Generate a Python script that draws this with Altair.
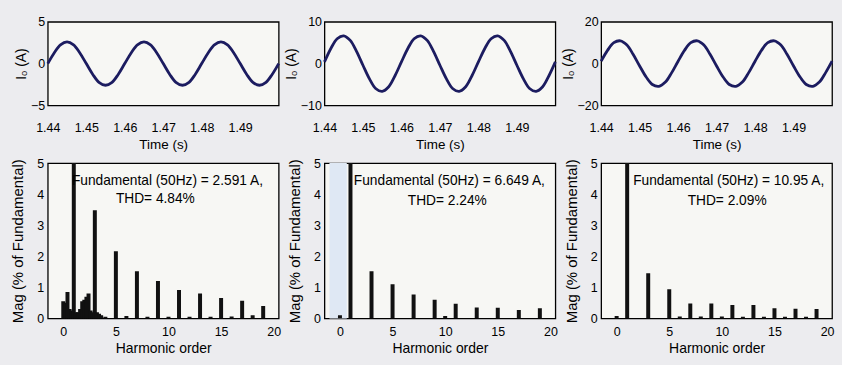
import altair as alt
import pandas as pd

# ---------------- data ----------------
t = [1.4400, 1.4417, 1.4433, 1.4450, 1.4467, 1.4483, 1.4500, 1.4517, 1.4533, 1.4550, 1.4567, 1.4583,
     1.4600, 1.4617, 1.4633, 1.4650, 1.4667, 1.4683, 1.4700, 1.4717, 1.4733, 1.4750, 1.4767, 1.4783,
     1.4800, 1.4817, 1.4833, 1.4850, 1.4867, 1.4883, 1.4900, 1.4917, 1.4933, 1.4950, 1.4967, 1.4983, 1.5000]

i_left = [0.0, 1.30, 2.24, 2.59, 2.24, 1.30, 0.0, -1.30, -2.24, -2.59, -2.24, -1.30,
          0.0, 1.30, 2.24, 2.59, 2.24, 1.30, 0.0, -1.30, -2.24, -2.59, -2.24, -1.30,
          0.0, 1.30, 2.24, 2.59, 2.24, 1.30, 0.0, -1.30, -2.24, -2.59, -2.24, -1.30, 0.0]
i_mid = [0.4, 3.67, 5.95, 6.64, 5.54, 2.97, -0.4, -3.67, -5.95, -6.64, -5.54, -2.97,
         0.4, 3.67, 5.95, 6.64, 5.54, 2.97, -0.4, -3.67, -5.95, -6.64, -5.54, -2.97,
         0.4, 3.67, 5.95, 6.64, 5.54, 2.97, -0.4, -3.67, -5.95, -6.64, -5.54, -2.97, 0.4]
i_right = [1.14, 6.44, 10.0, 10.89, 8.86, 4.45, -1.14, -6.44, -10.0, -10.89, -8.86, -4.45,
           1.14, 6.44, 10.0, 10.89, 8.86, 4.45, -1.14, -6.44, -10.0, -10.89, -8.86, -4.45,
           1.14, 6.44, 10.0, 10.89, 8.86, 4.45, -1.14, -6.44, -10.0, -10.89, -8.86, -4.45, 1.14]

time_ticks = [1.44, 1.45, 1.46, 1.47, 1.48, 1.49]
y_dom_left, y_ticks_left = [-5, 5], [-5, 0, 5]
y_dom_mid, y_ticks_mid = [-10, 10], [-10, 0, 10]
y_dom_right, y_ticks_right = [-20, 20], [-20, 0, 20]

order_left = [0, 0.2, 0.4, 0.6, 0.8, 1, 1.2, 1.4, 1.6, 1.8, 2.0, 2.2, 2.4, 2.6, 2.8, 3, 3.2, 3.4, 3.6,
              4, 5, 6, 7, 8, 9, 10, 11, 12, 13, 14, 15, 16, 17, 18, 19]
mag_left = [0.55, 0.5, 0.85, 0.3, 0.25, 100, 0.2, 0.2, 0.3, 0.55, 0.6, 0.7, 0.8, 0.25, 0.2, 3.48, 0.2, 0.15, 0.1,
            0.05, 2.16, 0.08, 1.52, 0.05, 1.2, 0.05, 0.91, 0.05, 0.8, 0.05, 0.66, 0.06, 0.57, 0.1, 0.4]

order_mid = [0, 1, 3, 5, 7, 9, 10, 11, 13, 15, 17, 19]
mag_mid = [0.1, 100, 1.52, 1.1, 0.77, 0.6, 0.08, 0.47, 0.35, 0.34, 0.27, 0.33]

order_right = [0, 1, 3, 5, 6, 7, 8, 9, 10, 11, 12, 13, 14, 15, 16, 17, 18, 19]
mag_right = [0.08, 100, 1.45, 0.94, 0.06, 0.48, 0.06, 0.48, 0.06, 0.43, 0.05, 0.43, 0.05, 0.33, 0.05, 0.31, 0.05, 0.3]

harm_ticks = [0, 5, 10, 15, 20]
mag_ticks = [0, 1, 2, 3, 4, 5]

notes_left = ["Fundamental (50Hz) = 2.591 A,", "THD= 4.84%"]
notes_mid = ["Fundamental (50Hz) = 6.649 A,", "THD= 2.24%"]
notes_right = ["Fundamental (50Hz) = 10.95 A,", "THD= 2.09%"]
notes_x_left, notes_y_left = [9.9, 8.75], [4.42, 3.84]
notes_x_mid, notes_y_mid = [10.4, 10.2], [4.43, 3.78]
notes_x_right, notes_y_right = [10.65, 10.5], [4.43, 3.78]

highlight_from, highlight_to = [-1], [0.65]

# ---------------- style ----------------
FONT = "Liberation Sans, Arial, sans-serif"
W = 232
H_TOP = 84
H_BOT = 156
LINE_COLOR = "#1c1c60"


def axis(values, title, fmt=None, label_pad=4, title_pad=4, title_size=14, label_size=12.5):
    kw = dict(values=values, title=title, ticks=False, domain=False, grid=False,
              labelFont=FONT, labelFontSize=label_size, labelColor="black", labelPadding=label_pad,
              labelOverlap=False,
              titleFont=FONT, titleFontSize=title_size, titleFontWeight="normal", titleColor="black",
              titlePadding=title_pad, labelFlush=False)
    if fmt:
        kw["format"] = fmt
    return alt.Axis(**kw)


def wave(vals, dom, ticks):
    df = pd.DataFrame({"t": t, "i": vals})
    return alt.Chart(df).mark_line(color=LINE_COLOR, strokeWidth=2.8, interpolate="catmull-rom").encode(
        x=alt.X("t:Q", scale=alt.Scale(domain=[1.44, 1.5], nice=False, zero=False),
                axis=axis(time_ticks, "Time (s)", ".2f", label_pad=16, title_pad=4, title_size=13.5)),
        y=alt.Y("i:Q", scale=alt.Scale(domain=dom, nice=False, zero=False),
                axis=axis(ticks, "Iₒ (A)", label_pad=3, title_pad=2, title_size=14)),
    ).properties(width=W, height=H_TOP)


def spectrum(orders, mags, notes, nx, ny, highlight=False):
    df = pd.DataFrame({"h": orders, "m": mags})
    xs = alt.Scale(domain=[-1, 20], nice=False, zero=False)
    ys = alt.Scale(domain=[0, 5], nice=False, zero=False)
    xa = axis(harm_ticks, "Harmonic order", label_pad=7, title_pad=4, title_size=14)
    ya = axis(mag_ticks, "Mag (% of Fundamental)", label_pad=4, title_pad=11, title_size=15)
    bars = alt.Chart(df).mark_bar(color="#111111", size=4, clip=True).encode(
        x=alt.X("h:Q", scale=xs, axis=xa),
        y=alt.Y("m:Q", scale=ys, axis=ya),
    )
    ndf = pd.DataFrame({"x": nx, "y": ny, "txt": notes})
    text = alt.Chart(ndf).mark_text(font=FONT, fontSize=13.8, color="black", align="center",
                                    baseline="middle").encode(
        x=alt.X("x:Q", scale=xs, axis=xa), y=alt.Y("y:Q", scale=ys, axis=ya), text="txt:N")
    layers = []
    if highlight:
        hdf = pd.DataFrame({"a": highlight_from, "b": highlight_to})
        layers.append(alt.Chart(hdf).mark_rect(color="#dfe8f4").encode(
            x=alt.X("a:Q", scale=xs, axis=xa), x2="b:Q"))
    layers += [bars, text]
    return alt.layer(*layers).properties(width=W, height=H_BOT)


charts = [
    wave(i_left, y_dom_left, y_ticks_left),
    wave(i_mid, y_dom_mid, y_ticks_mid),
    wave(i_right, y_dom_right, y_ticks_right),
    spectrum(order_left, mag_left, notes_left, notes_x_left, notes_y_left),
    spectrum(order_mid, mag_mid, notes_mid, notes_x_mid, notes_y_mid, highlight=True),
    spectrum(order_right, mag_right, notes_right, notes_x_right, notes_y_right),
]

chart = alt.concat(*charts, columns=3, spacing={"row": 58, "column": 46},
                   bounds="flush", align="each").configure_view(
    stroke="black", strokeWidth=1.3, fill="#f7f7f4"
).properties(
    background="#ececef",
    padding={"left": 10, "top": 14, "right": 3, "bottom": 16},
)

chart.save("out.html", embed_options={"renderer": "svg", "actions": False})
